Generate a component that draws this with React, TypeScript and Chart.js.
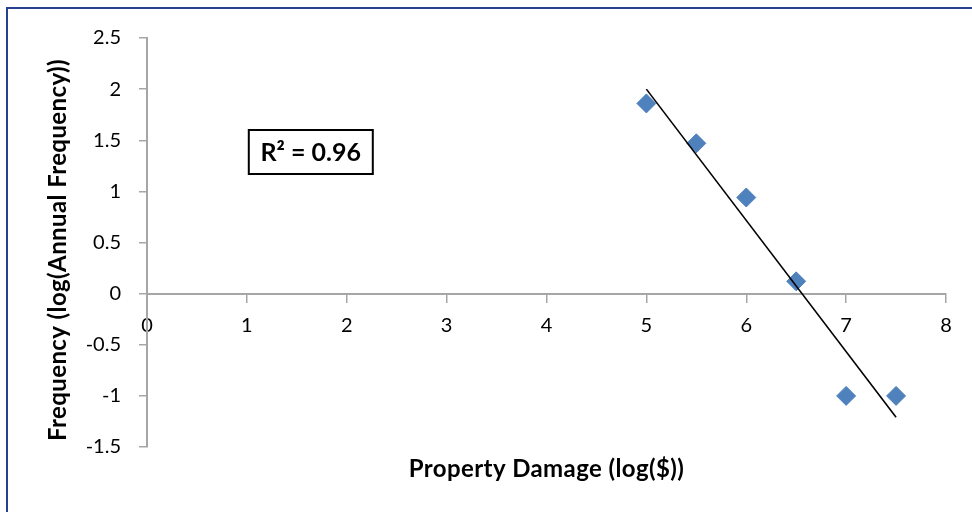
import { useEffect, useRef } from "react";
import { Chart, registerables } from "chart.js";

Chart.register(...registerables);

// Data
const damageLog = [5, 5.5, 6, 6.5, 7, 7.5];
const frequencyLog = [1.86, 1.47, 0.94, 0.12, -1.0, -1.0];
const trendX = [5.0, 7.5];
const trendY = [2.0, -1.21];
const xRange = [0, 8];
const yRange = [-1.5, 2.5];
const rSquaredLabel = "R² = 0.96";
const xTitle = "Property Damage (log($))";
const yTitle = "Frequency (log(Annual Frequency))";

const FONT = "Lato, 'Noto Sans', sans-serif";
const AXIS_GREY = "#A6A6A6";

const overlayPlugin = {
  id: "overlay",
  afterDraw(chart: any) {
    const { ctx, scales } = chart;
    const x = scales.x;
    const y = scales.y;
    ctx.save();
    ctx.fillStyle = "#000";
    ctx.textAlign = "center";
    ctx.textBaseline = "middle";
    ctx.font = `bold 24px ${FONT}`;
    try {
      (ctx as any).letterSpacing = "0.4px";
    } catch (e) {}
    // X axis title
    ctx.fillText(xTitle, (x.left + x.right) / 2, 469);
    // Y axis title
    ctx.save();
    ctx.translate(58, 250);
    ctx.rotate(-Math.PI / 2);
    ctx.fillText(yTitle, 0, 0);
    ctx.restore();
    try {
      (ctx as any).letterSpacing = "0px";
    } catch (e) {}
    // R² box
    const cx = x.getPixelForValue(1.64);
    const cy = y.getPixelForValue(1.385);
    const w = 124;
    const h = 44;
    ctx.fillStyle = "#fff";
    ctx.fillRect(cx - w / 2, cy - h / 2, w, h);
    ctx.strokeStyle = "#000";
    ctx.lineWidth = 2;
    ctx.strokeRect(cx - w / 2, cy - h / 2, w, h);
    ctx.fillStyle = "#000";
    ctx.font = `bold 25px ${FONT}`;
    ctx.fillText(rSquaredLabel, cx, cy + 1);
    ctx.restore();
  },
};

export default function App() {
  const canvasRef = useRef<HTMLCanvasElement | null>(null);

  useEffect(() => {
    if (!canvasRef.current) return;
    const chart = new Chart(canvasRef.current, {
      type: "scatter",
      data: {
        datasets: [
          {
            label: "Trend",
            data: trendX.map((v, i) => ({ x: v, y: trendY[i] })),
            showLine: true,
            borderColor: "#000",
            borderWidth: 1.6,
            pointRadius: 0,
            fill: false,
          },
          {
            label: "Frequency",
            data: damageLog.map((v, i) => ({ x: v, y: frequencyLog[i] })),
            pointStyle: "rectRot",
            pointRadius: 9.5,
            backgroundColor: "#4F81BD",
            borderColor: "#4F81BD",
            borderWidth: 1,
          },
        ],
      },
      options: {
        responsive: false,
        animation: false,
        layout: { padding: { left: 0, top: 38, right: 26, bottom: 65 } },
        plugins: { legend: { display: false }, tooltip: { enabled: false } },
        scales: {
          x: {
            type: "linear",
            min: xRange[0],
            max: xRange[1],
            position: { y: 0 } as any,
            ticks: {
              stepSize: 1,
              color: "#000",
              font: { family: FONT, size: 20 },
              padding: 12,
              callback: (v: any) => String(v),
            },
            grid: {
              drawOnChartArea: false,
              drawTicks: true,
              tickLength: 8,
              color: AXIS_GREY,
              lineWidth: 1.5,
            },
            border: { color: AXIS_GREY, width: 2 },
            afterFit: (s: any) => {
              s.height = 0;
            },
          },
          y: {
            type: "linear",
            min: yRange[0],
            max: yRange[1],
            ticks: {
              stepSize: 0.5,
              color: "#000",
              font: { family: FONT, size: 20 },
              padding: 18,
              callback: (v: any) => String(v),
            },
            grid: {
              drawOnChartArea: false,
              drawTicks: true,
              tickLength: 8,
              color: AXIS_GREY,
              lineWidth: 1.5,
            },
            border: { color: AXIS_GREY, width: 2 },
            afterFit: (s: any) => {
              s.width = 147;
            },
          },
        },
      },
      plugins: [overlayPlugin],
    });
    return () => chart.destroy();
  }, []);

  return (
    <div
      style={{
        position: "absolute",
        left: 0,
        top: 0,
        width: 972,
        height: 512,
        background: "#fff",
        overflow: "hidden",
      }}
    >
      <div
        style={{
          position: "absolute",
          left: 6,
          top: 7,
          width: 1000,
          height: 600,
          borderLeft: "2px solid #26418F",
          borderTop: "2px solid #26418F",
        }}
      />
      <canvas
        ref={canvasRef}
        width={972}
        height={512}
        style={{ position: "absolute", left: 0, top: 0, width: 972, height: 512 }}
      />
    </div>
  );
}
